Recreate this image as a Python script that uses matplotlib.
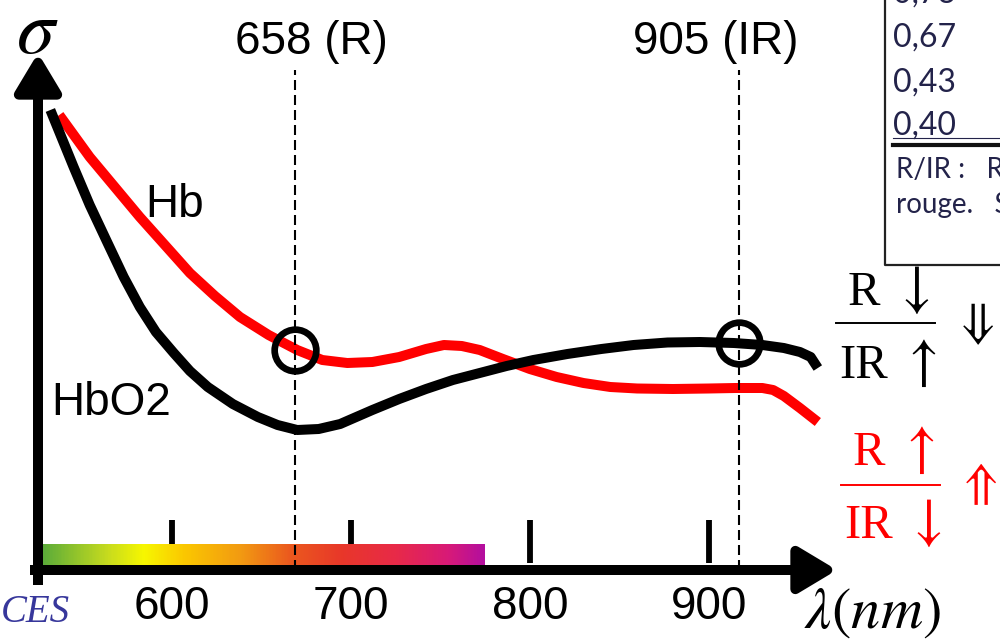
import numpy as np
import matplotlib
matplotlib.use("Agg")
import matplotlib.pyplot as plt
from matplotlib.colors import LinearSegmentedColormap
from matplotlib.patches import FancyArrowPatch

plt.rcParams["mathtext.fontset"] = "stix"

# absorption curves (wavelength nm, sigma arbitrary units)
hb_nm = [537, 554, 568, 582, 596, 610, 624, 638, 654, 670, 684, 698, 712, 727,
         742, 752, 762, 772, 785, 800, 815, 830, 845, 860, 880, 900, 915, 930,
         936, 942, 951, 961]
hb_sigma = [4.55, 4.13, 3.83, 3.53, 3.25, 2.97, 2.74, 2.53, 2.35, 2.20, 2.10,
            2.07, 2.08, 2.13, 2.21, 2.25, 2.24, 2.20, 2.11, 2.01, 1.93, 1.87,
            1.83, 1.815, 1.81, 1.815, 1.82, 1.82, 1.80, 1.74, 1.62, 1.48]

hbo2_nm = [532, 545, 554, 564, 573, 582, 591, 601, 610, 620, 634, 648, 659,
           670, 682, 694, 712, 727, 742, 757, 772, 787, 802, 821, 840, 858,
           877, 895, 914, 930, 942, 951, 957, 961]
hbo2_sigma = [4.60, 4.03, 3.65, 3.27, 2.93, 2.63, 2.38, 2.17, 1.99, 1.83, 1.66,
              1.53, 1.45, 1.40, 1.41, 1.46, 1.60, 1.71, 1.81, 1.90, 1.97, 2.04,
              2.10, 2.16, 2.21, 2.25, 2.275, 2.28, 2.27, 2.25, 2.22, 2.18, 2.13,
              2.02]

xticks = [600, 700, 800, 900]
xtick_labels = ["600", "700", "800", "900"]

# emitter wavelengths (as drawn) and their labels
led_nm = [669, 917]
led_labels = ["658 (R)", "905 (IR)"]
led_hb_sigma = [2.20, 1.82]
led_hbo2_sigma = [1.40, 2.27]

# visible spectrum bar
spectrum_colors = ["#5aab3a", "#c8dc1e", "#f7f700", "#fbc800", "#f29a12",
                   "#eb5a1e", "#e8372a", "#e82a48", "#d81a78", "#b40f9e"]
spectrum_pos = [0.0, 0.15, 0.23, 0.32, 0.45, 0.56, 0.68, 0.80, 0.92, 1.0]
spectrum_nm = [527, 775]

table_values = ["0,73", "0,67", "0,43", "0,40"]

W, H = 1000, 642


def px(x, y):
    # pixel position of the drawing -> data coordinates
    return 600 + (x - 172) / 1.789, (570 - y) / 100


fig = plt.figure(figsize=(10, 6.42), dpi=100)
ax = fig.add_axes([0, 0, 1, 1])
ax.set_axis_off()

sans = "Liberation Sans"
serif = ["Liberation Serif", "DejaVu Serif"]

# ticks below the spectrum bar
for t in xticks:
    ax.plot([t, t], [0.07, 0.50], color="black", lw=4.2, solid_capstyle="butt", zorder=2)

cmap = LinearSegmentedColormap.from_list("spec", list(zip(spectrum_pos, spectrum_colors)))
ax.imshow(np.linspace(0, 1, 400)[None, :], cmap=cmap, aspect="auto",
          extent=[spectrum_nm[0], spectrum_nm[1], 0.05, 0.26], zorder=3,
          interpolation="bilinear")

# axes arrows
x0, _ = px(30, 570)
x1, _ = px(837, 570)
ax.add_patch(FancyArrowPatch((x0, 0), (x1, 0), arrowstyle="-|>,head_length=1.0,head_width=0.6",
                             mutation_scale=23, lw=7.2, color="black", shrinkA=0, shrinkB=0,
                             capstyle="butt", zorder=4))
ya, yb = px(38, 585)
_, yt = px(38, 53)
ax.add_patch(FancyArrowPatch((ya, yb), (ya, yt), arrowstyle="-|>,head_length=1.0,head_width=0.6",
                             mutation_scale=23, lw=7.2, color="black", shrinkA=0, shrinkB=0,
                             capstyle="butt", zorder=4))

# curves
ax.plot(hb_nm, hb_sigma, color="#ff0000", lw=7.2, solid_capstyle="butt",
        solid_joinstyle="round", zorder=5)
ax.plot(hbo2_nm, hbo2_sigma, color="black", lw=7.2, solid_capstyle="butt",
        solid_joinstyle="round", zorder=6)

# dashed emitter lines
for nm in led_nm:
    ax.plot([nm, nm], [0.0, 5.0], color="black", lw=1.5, ls=(0, (4.8, 2.4)), zorder=7)

ax.plot(led_nm[0], led_hb_sigma[0], "o", ms=30, mfc="none", mec="black", mew=4.8, zorder=8)
ax.plot(led_nm[1], led_hbo2_sigma[1], "o", ms=30, mfc="none", mec="black", mew=4.8, zorder=8)

# labels
for nm, lab, cx in zip(led_nm, led_labels, [311, 716]):
    x, y = px(cx, 42)
    ax.text(x, y, lab, fontsize=33, family=sans, ha="center", va="center")

for t, lab in zip(xticks, xtick_labels):
    ax.text(t, px(0, 607)[1], lab, fontsize=33, family=sans, ha="center", va="center")

ax.text(*px(175, 205), "Hb", fontsize=33, family=sans, ha="center", va="center")
ax.text(*px(111, 403), "HbO2", fontsize=33, family=sans, ha="center", va="center")

ax.text(*px(37, 53), r"$\sigma$", fontsize=55, ha="center", va="baseline")
ax.text(*px(872, 628), r"$\lambda(nm)$", fontsize=42, ha="center", va="baseline")
ax.text(*px(1, 622), "CES", fontsize=28, family=serif, style="italic", color="#37379b",
        ha="left", va="baseline")


# ratio annotations
def frac(color, top, bottom, dbl, ytop, yline, ybot, dx, xdbl, ydbl):
    ax.text(*px(864 + dx, ytop), "R", fontsize=35, family=serif, color=color,
            ha="center", va="baseline")
    ax.text(*px(911 + dx, ytop), top, fontsize=42, color=color,
            ha="center", va="baseline")
    ax.text(*px(864 + dx, ybot), "IR", fontsize=35, family=serif, color=color,
            ha="center", va="baseline")
    ax.text(*px(918 + dx, ybot), bottom, fontsize=42, color=color,
            ha="center", va="baseline")
    xa, yl = px(836 + dx, yline)
    xb, _ = px(935 + dx, yline)
    ax.plot([xa, xb], [yl, yl], color=color, lw=1.4)
    ax.text(*px(xdbl, ydbl), dbl, fontsize=36, color=color,
            ha="center", va="baseline")


frac("black", r"$\downarrow$", r"$\uparrow$", r"$\Downarrow$", 305, 323, 378, 0, 974, 337)
frac("#ff0000", r"$\uparrow$", r"$\downarrow$", r"$\Uparrow$", 465, 485, 538, 5, 977, 497)

# fragment of a table at top right
tc = "#23234a"
ax.plot(*zip(px(885, -5), px(885, 265), px(1005, 265)), color="#222222", lw=1.6)
ax.plot(*zip(px(893, 145), px(1005, 145)), color="#111111", lw=3.0)
for val, base in zip(table_values, [3, 47, 92, 135]):
    ax.text(*px(893, base), val, fontsize=23, family="Lato", color=tc,
            ha="left", va="baseline")
ax.plot(*zip(px(893, 138), px(1005, 138)), color=tc, lw=0.8)
ax.text(*px(896, 178), "R/IR :   R", fontsize=20, family="Lato", color=tc,
        ha="left", va="baseline")
ax.text(*px(896, 213), "rouge.   S", fontsize=20, family="Lato", color=tc,
        ha="left", va="baseline")

xl0, yl0 = px(0, H)
xl1, yl1 = px(W, 0)
ax.set_xlim(xl0, xl1)
ax.set_ylim(yl0, yl1)

fig.savefig("out.png", dpi=100)
